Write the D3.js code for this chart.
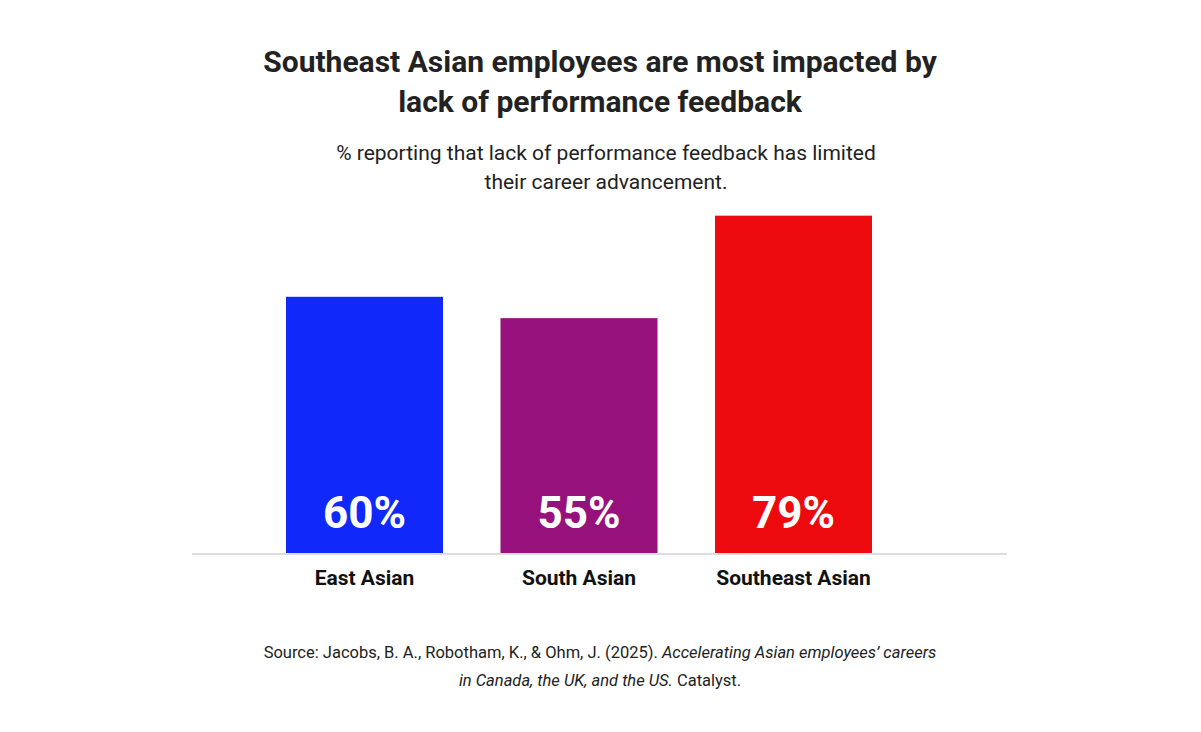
<!DOCTYPE html>
<html><head><meta charset="utf-8">
<script src="https://cdn.jsdelivr.net/npm/d3@7"></script>
<style>body{margin:0;background:#fff;font-family:Roboto,sans-serif}</style>
</head><body>
<svg id="c" width="1201" height="732"></svg>
<script>
const categories = ["East Asian", "South Asian", "Southeast Asian"];
const values = [60, 55, 79];
const colors = ["#1029FA", "#97117C", "#EC0A0E"];
const titleLines = ["Southeast Asian employees are most impacted by", "lack of performance feedback"];
const subtitleLines = ["% reporting that lack of performance feedback has limited", "their career advancement."];

const svg = d3.select("#c");
const x = d3.scaleBand().domain(categories).range([286, 872]).paddingInner(0.268).paddingOuter(0);
const y = d3.scaleLinear().domain([0, 100]).range([553, 126]);

svg.selectAll("text.t").data(titleLines).join("text")
  .attr("x", 600).attr("y", (d, i) => 72 + i * 40).attr("text-anchor", "middle")
  .attr("font-size", 30).attr("font-weight", 700).attr("fill", "#222").text(d => d);
svg.selectAll("text.s").data(subtitleLines).join("text")
  .attr("x", 606).attr("y", (d, i) => 160 + i * 29).attr("text-anchor", "middle")
  .attr("font-size", 21).attr("fill", "#222").text(d => d);

svg.selectAll("rect.b").data(values).join("rect")
  .attr("x", (d, i) => x(categories[i])).attr("width", x.bandwidth())
  .attr("y", d => y(d)).attr("height", d => y(0) - y(d))
  .attr("fill", (d, i) => colors[i]);

svg.selectAll("text.v").data(values).join("text")
  .attr("x", (d, i) => x(categories[i]) + x.bandwidth() / 2).attr("y", 528)
  .attr("text-anchor", "middle").attr("font-size", 44).attr("font-weight", 700)
  .attr("fill", "#fff").text(d => d + "%");

svg.append("line").attr("x1", 192).attr("x2", 1007).attr("y1", y(0) + 1).attr("y2", y(0) + 1)
  .attr("stroke", "#ddd").attr("stroke-width", 2);

const ax = svg.append("g").attr("transform", `translate(0,${y(0)})`)
  .call(d3.axisBottom(x).tickSize(0).tickPadding(12));
ax.select(".domain").remove();
ax.selectAll("text").attr("font-size", 21).attr("font-weight", 700)
  .attr("font-family", "Roboto, sans-serif").attr("fill", "#111").attr("dy", "0.95em");

const src = svg.append("text").attr("x", 600).attr("y", 658).attr("text-anchor", "middle")
  .attr("font-size", 16.5).attr("fill", "#222");
src.append("tspan").text("Source: Jacobs, B. A., Robotham, K., & Ohm, J. (2025). ");
src.append("tspan").attr("font-style", "italic").text("Accelerating Asian employees’ careers");
const src2 = svg.append("text").attr("x", 600).attr("y", 686).attr("text-anchor", "middle")
  .attr("font-size", 16.5).attr("fill", "#222");
src2.append("tspan").attr("font-style", "italic").text("in Canada, the UK, and the US.");
src2.append("tspan").text(" Catalyst.");
</script>
</body></html>
